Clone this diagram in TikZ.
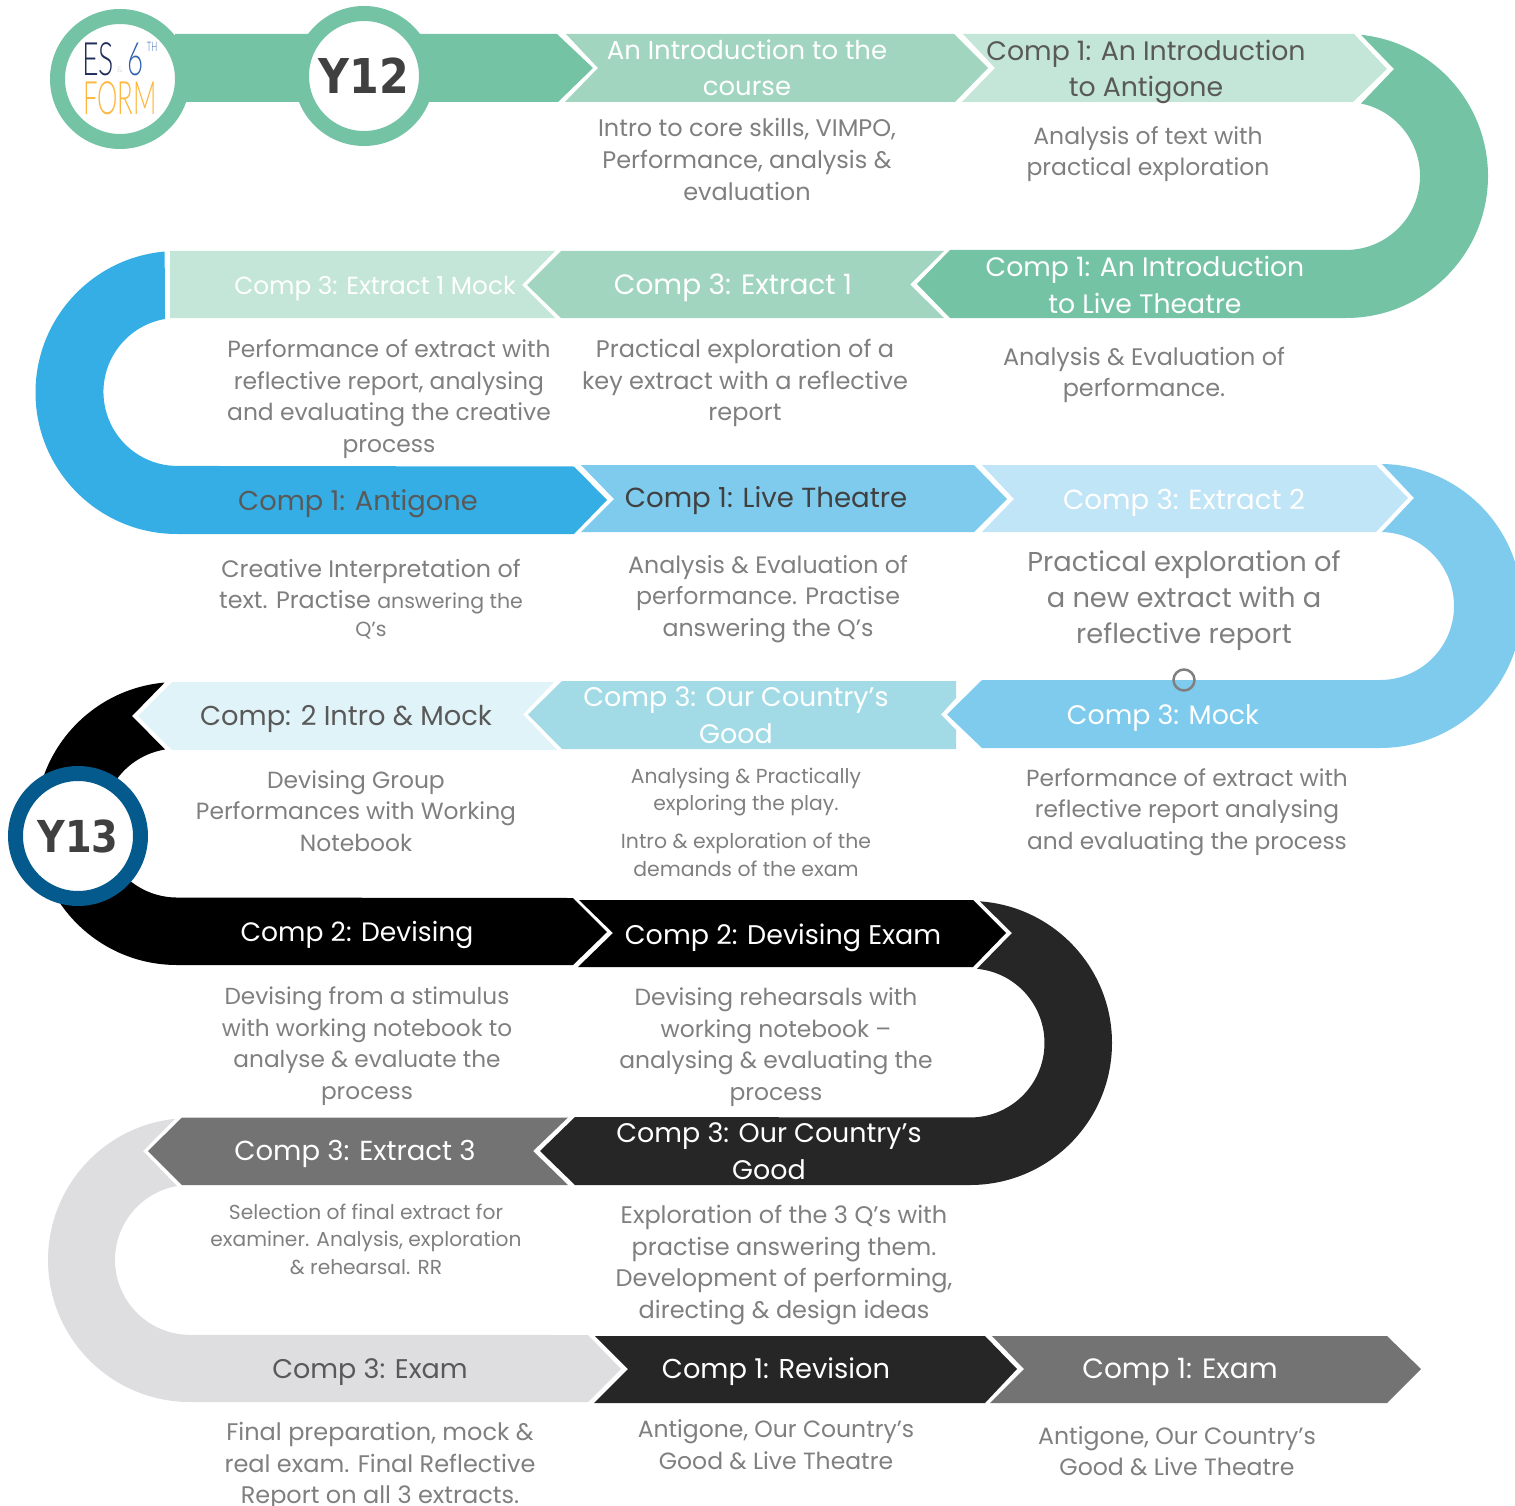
\documentclass[tikz,border=0pt]{standalone}
\usepackage{fontspec}
\setmainfont{Poppins}
\newfontfamily\yfont{DejaVu Sans}
\newfontfamily\logofont{Lato Light}
\definecolor{gA}{HTML}{75C3A5}
\definecolor{gB}{HTML}{A1D5BF}
\definecolor{gC}{HTML}{C4E6D9}
\definecolor{bA}{HTML}{35AEE5}
\definecolor{bB}{HTML}{7FCBEE}
\definecolor{bC}{HTML}{BFE5F7}
\definecolor{bD}{HTML}{A2DBE6}
\definecolor{bE}{HTML}{E0F3F8}
\definecolor{kA}{HTML}{262626}
\definecolor{kB}{HTML}{737373}
\definecolor{kC}{HTML}{DEDEE0}
\definecolor{ringB}{HTML}{045A8D}
\definecolor{descc}{HTML}{7F7F7F}
\definecolor{darkh}{HTML}{595959}
\definecolor{darki}{HTML}{404040}
\definecolor{lgNavy}{HTML}{1F2D5A}
\definecolor{lgBlue}{HTML}{2F62AD}
\definecolor{lgGold}{HTML}{FDB73E}
\definecolor{lgGray}{HTML}{C8C8C8}
\tikzset{
  hd/.style={align=center,inner sep=0pt,font=\fontsize{#1}{36.5}\selectfont,text=white},
  hddark/.style={hd=#1,text=darkh},
  ds/.style={align=center,inner sep=0pt,font=\fontsize{#1}{31.7}\selectfont,text=descc},
  dssmall/.style={align=center,inner sep=0pt,font=\fontsize{#1}{27.5}\selectfont,text=descc},
  ring/.style={circle,draw=#1,line width=15pt,fill=white,minimum size=125pt,inner sep=0pt},
  logot/.style={inner sep=0pt,font=\logofont\fontsize{46}{46}\selectfont}
}
\begin{document}
\begin{tikzpicture}[x=1pt,y=1pt,yscale=-1]
\useasboundingbox (0,0) rectangle (1515,1506);
\clip (0,0) rectangle (1515,1506);
% row 1
\fill[gA] (175,34) -- (557,34) -- (593,68) -- (558,102) -- (175,102) -- cycle;
\fill[gB] (566,34) -- (954,34) -- (988,68) -- (955,102) -- (565,102) -- (598,68) -- cycle;
\fill[gC] (963,34) -- (1354,34) -- (1387,69) -- (1353,102) -- (962,102) -- (995,68) -- cycle;
\fill[gA] (1361,34.8) -- (1394,69) -- (1361,103.5) arc[start angle=-78.3,end angle=90,radius=74] -- (950,250) -- (917,284) -- (950,318) -- (1346,318) arc[start angle=90,end angle=-84,radius=142] -- cycle;
% row 2
\fill[gB] (561,251) -- (944,251) -- (910,284.5) -- (944,318) -- (561,318) -- (527,285) -- cycle;
\fill[gC] (170,251) -- (555,251) -- (522,285) -- (555,318) -- (170,318) -- cycle;
\fill[bA] (165,319) arc[start angle=260.3,end angle=90,radius=74] -- (574,466.5) -- (607,500) -- (574,534) -- (177,534) arc[start angle=90,end angle=265,radius=141.5] -- cycle;
% row 3
\fill[bB] (581,465) -- (974,465) -- (1007,499) -- (974,532) -- (581,532) -- (614,499) -- cycle;
\fill[bC] (982,465) -- (1376,465) -- (1408,498) -- (1376,532) -- (982,532) -- (1014,499) -- cycle;
\fill[bB] (1382,464) -- (1414,498) -- (1382,532) -- (1380,532) arc[start angle=-90,end angle=90,radius=74] -- (982,680) -- (947,714.5) -- (982,748) -- (1380,748) arc[start angle=90,end angle=-90,radius=142] -- cycle;
% row 4
\fill[bD] (562,681) -- (956,681) -- (956,698) -- (941,714.5) -- (956,730) -- (956,749) -- (562,749) -- (528,714.5) -- cycle;
\fill[bE] (172,682) -- (554,682) -- (523,714.5) -- (557,750) -- (172,750) -- (138,716) -- cycle;
\fill[black] (165,749.5) arc[start angle=260.7,end angle=90,radius=74.5] -- (573,898) -- (607,932) -- (573,965) -- (177,965) arc[start angle=90,end angle=265,radius=141.5] -- (132,716) -- cycle;
% row 5
\fill[black] (579,900) -- (973,900) -- (1006,933) -- (973,967) -- (578,967) -- (613,933) -- cycle;
\fill[kA] (980,901.5) -- (1012,933) -- (977,968.8) arc[start angle=-84.6,end angle=90,radius=74.5] -- (575,1117) -- (540,1151) -- (575,1185) -- (970,1185) arc[start angle=90,end angle=-86,radius=142] -- cycle;
% row 6
\fill[kB] (568,1117.5) -- (533,1151) -- (568,1185) -- (182,1185) -- (148,1151) -- (182,1117.5) -- cycle;
\fill[kC] (177,1186) arc[start angle=260,end angle=90,radius=75] -- (588,1335) -- (621,1369) -- (588,1402) -- (190,1402) arc[start angle=90,end angle=264,radius=142] -- (143,1151) -- cycle;
% row 7
\fill[kA] (595,1336) -- (985,1336) -- (1017,1369) -- (985,1403) -- (594,1403) -- (628,1369) -- cycle;
\fill[kB] (992,1336) -- (1387,1336) -- (1421,1369) -- (1387,1403) -- (990,1403) -- (1024,1369) -- cycle;
% stray ring
\draw[descc,line width=2.5pt] (1184,680) circle[radius=10.5];
% circles
\node[ring=gA] (logo) at (120,79) {};
\node[ring=gA,font=\yfont\bfseries\fontsize{48}{48}\selectfont,text=darki] (y12) at (364,76) {\scalebox{0.89}[1]{Y12}};
\node[ring=ringB,font=\yfont\bfseries\fontsize{44}{44}\selectfont,text=darki] (y13) at (78,836) {\scalebox{0.87}[1]{Y13}};
% logo text
\node[logot,text=lgNavy] (lgES) at (98,59) {\scalebox{0.62}[1]{ES}};
\node[logot,text=lgBlue] (lgSix) at (136,59) {\scalebox{0.6}[1]{6}};
\node[logot,text=lgGray,font=\logofont\fontsize{8}{8}\selectfont] (lgAmp) at (120,70) {\&};
\node[logot,text=lgBlue,font=\logofont\fontsize{13}{13}\selectfont] (lgTH) at (152,47) {\scalebox{0.6}[1]{TH}};
\node[logot,text=lgGold] (lgFORM) at (120,98.5) {\scalebox{0.56}[1]{FORM}};
% headers
\node[hd=25.9] (h1) at (747,68) {An Introduction to the\\course};
\node[hddark=26.75] (h2) at (1146,72) {Comp 1: An Introduction\\to Antigone};
\node[hd=26.7] (h3) at (1145,285) {Comp 1: An Introduction\\to Live Theatre};
\node[hd=28] (h4) at (733,288) {Comp 3: Extract 1};
\node[hd=24.7] (h5) at (375,289) {Comp 3: Extract 1 Mock};
\node[hd=27.3,text=darkh] (h6) at (358,504) {Comp 1: Antigone};
\node[hd=27.6,text=darki] (h7) at (766,501) {Comp 1: Live Theatre};
\node[hd=27.6] (h8) at (1184,503) {Comp 3: Extract 2};
\node[hd=26.8] (h9) at (1163,718) {Comp 3: Mock};
\node[hd=26.9] (h10) at (736,715) {Comp 3: Our Country’s\\Good};
\node[hddark=27.3] (h11) at (346,719) {Comp: 2 Intro \& Mock};
\node[hd=26.6] (h12) at (357,935) {Comp 2: Devising};
\node[hd=27] (h13) at (783,938) {Comp 2: Devising Exam};
\node[hd=26.9] (h14) at (769,1151) {Comp 3: Our Country’s\\Good};
\node[hd=27.5] (h15) at (355,1154) {Comp 3: Extract 3};
\node[hddark=27] (h16) at (370,1372) {Comp 3: Exam};
\node[hd=27.3] (h17) at (776,1372) {Comp 1: Revision};
\node[hd=28] (h18) at (1180,1372) {Comp 1: Exam};
% descriptions
\node[ds=24] (d1) at (747,159.5) {Intro to core skills, VIMPO,\\Performance, analysis \&\\evaluation};
\node[ds=23.5] (d2) at (1148,154) {Analysis of text with\\practical exploration};
\node[ds=23.9] (d3) at (1144,375) {Analysis \& Evaluation of\\performance.};
\node[ds=24] (d4) at (745,383) {Practical exploration of a\\key extract with a reflective\\report};
\node[ds=23.4] (d5) at (389,399) {Performance of extract with\\reflective report, analysing\\and evaluating the creative\\process};
\node[ds=23.8] (d6) at (371,599) {Creative Interpretation of\\text. Practise {\fontsize{20.5}{27}\selectfont answering the}\\[-4pt]{\fontsize{20.5}{27}\selectfont Q’s}};
\node[ds=23.7] (d7) at (768,599) {Analysis \& Evaluation of\\performance. Practise\\answering the Q’s};
\node[align=center,inner sep=0pt,font=\fontsize{27.3}{36}\selectfont,text=descc] (d8) at (1184,601) {Practical exploration of\\a new extract with a\\reflective report};
\node[ds=23.3] (d9) at (1187,812) {Performance of extract with\\reflective report analysing\\and evaluating the process};
\node[dssmall=20.3] (d10a) at (746,792) {Analysing \& Practically\\exploring the play.};
\node[dssmall=20.4] (d10b) at (746,855) {Intro \& exploration of the\\demands of the exam};
\node[ds=23.4] (d11) at (356,811) {Devising Group\\Performances with Working\\Notebook};
\node[ds=23.2] (d12) at (367,1046) {Devising from a stimulus\\with working notebook to\\analyse \& evaluate the\\process};
\node[ds=23.4] (d13) at (776,1047) {Devising rehearsals with\\working notebook –\\analysing \& evaluating the\\process};
\node[dssmall=20.2] (d14) at (366,1239) {Selection of final extract for\\examiner. Analysis, exploration\\\& rehearsal. RR};
\node[ds=24] (d15) at (784,1265) {Exploration of the 3 Q’s with\\practise answering them.\\Development of performing,\\directing \& design ideas};
\node[ds=24] (d16) at (380,1466) {Final preparation, mock \&\\real exam. Final Reflective\\Report on all 3 extracts.};
\node[ds=23.5] (d17) at (776,1445) {Antigone, Our Country’s\\Good \& Live Theatre};
\node[ds=23.6] (d18) at (1177,1451) {Antigone, Our Country’s\\Good \& Live Theatre};
\end{tikzpicture}
\end{document}
